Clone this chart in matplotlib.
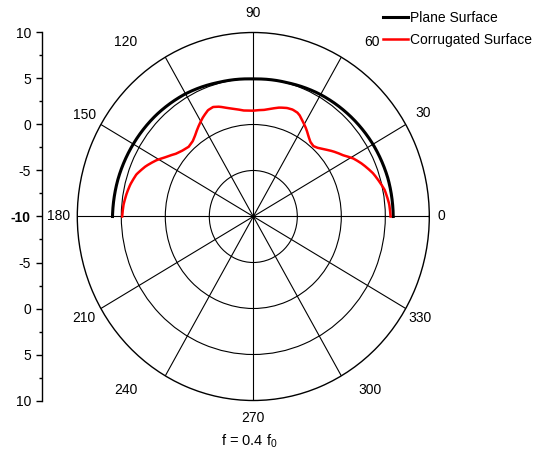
import numpy as np
import matplotlib
matplotlib.use('Agg')
import matplotlib.pyplot as plt
from matplotlib.ticker import FixedLocator, MultipleLocator

plt.rcParams['font.family'] = ['Liberation Sans', 'DejaVu Sans']
plt.rcParams['mathtext.fontset'] = 'custom'
plt.rcParams['mathtext.rm'] = 'Liberation Sans'
plt.rcParams['mathtext.it'] = 'Liberation Sans'

# angles in degrees, gain in dB
plane_theta = [0, 15, 30, 45, 60, 75, 90, 105, 120, 135, 150, 165, 180]
plane_db = [5.9, 5.85, 5.7, 5.5, 5.3, 5.05, 4.95, 5.1, 5.4, 5.6, 5.75, 5.9, 6.0]

corr_theta = [0, 5, 11, 19, 25, 29, 33, 38, 42, 45, 48, 51, 54, 58, 61, 64, 66, 69,
              72, 76, 80, 84, 90, 95, 100, 104, 108, 111, 114, 118, 121, 124, 127,
              130, 134, 138, 142, 147, 151, 156, 161, 166, 170, 175, 180]
corr_db = [5.6, 5.5, 5.2, 4.4, 3.6, 3.0, 2.2, 1.5, 0.9, 0.5, 0.25, 0.35, 0.7, 1.3, 1.7, 2.15,
           2.35, 2.45, 2.4, 2.2, 1.9, 1.65, 1.5, 1.55, 1.85, 2.15, 2.55, 2.75, 2.65, 2.2,
           1.8, 1.4, 1.0, 0.7, 0.55, 0.75, 1.1, 1.85, 2.6, 3.4, 4.05, 4.4, 4.6, 4.8, 4.9]

ring_db = [-5, 0, 5]
angle_ticks = list(range(0, 360, 30))
side_ticks = [-20, -15, -10, -5, 0, 5, 10, 15, 20]
side_labels = [str(abs(t) - 10) for t in side_ticks]

fig = plt.figure(figsize=(5.47, 4.65), dpi=100)
W, H = 547, 465
cx, cy, rx, ry = 253.3, 216.5, 176, 184
box = [(cx - rx) / W, (H - cy - ry) / H, 2 * rx / W, 2 * ry / H]

ax = fig.add_axes(box, projection='polar')
ax.set_aspect('auto')
ax.set_rlim(-10, 10)
ax.set_rgrids(ring_db, labels=[''] * len(ring_db))
ax.set_thetagrids(angle_ticks, labels=[''] * len(angle_ticks))
ax.xaxis.set_minor_locator(FixedLocator(np.deg2rad(np.arange(15, 360, 30))))
ax.tick_params(axis='x', which='major', length=2, direction='out')
ax.tick_params(axis='x', which='minor', length=4, direction='in', width=0.8)
ax.grid(True, color='black', linewidth=0.8)
ax.spines['polar'].set_linewidth(1.0)
ax.spines['polar'].set_color('black')

l1, = ax.plot(np.deg2rad(plane_theta), plane_db, color='black', lw=2.2, label='Plane Surface')
l2, = ax.plot(np.deg2rad(corr_theta), corr_db, color='#ff0000', lw=1.8, label='Corrugated Surface')
# draw segments as arcs in polar space
for ln in (l1, l2):
    ln.get_path()._interpolation_steps = 40

# angle labels, placed where the original software put them (pixel centres)
label_pos = [(441, 216), (423, 113), (372, 42), (253, 13), (126, 42), (85, 115),
             (59, 216), (84, 318), (126, 390), (253, 418), (370, 390), (420, 318)]
for a, (px, py) in zip(angle_ticks, label_pos):
    fig.text(px / W, 1 - py / H, str(a), ha='center', va='center', fontsize=10)

ax.legend(loc='upper left', bbox_to_anchor=(383 / W, 1 - 11 / H), bbox_transform=fig.transFigure,
          frameon=False, fontsize=10, handlelength=1.8, handletextpad=0.15,
          labelspacing=0.55, borderpad=0, borderaxespad=0)

# linear scale on the left
ax2 = fig.add_axes([42 / W, box[1], 0.001, box[3]])
ax2.set_ylim(-20, 20)
ax2.set_yticks(side_ticks, side_labels, fontsize=10)
ax2.yaxis.set_minor_locator(MultipleLocator(2.5))
ax2.tick_params(axis='y', which='major', length=4, width=1, pad=4)
ax2.tick_params(axis='y', which='minor', length=2, width=1)
ax2.set_xticks([])
for s in ['top', 'right', 'bottom']:
    ax2.spines[s].set_visible(False)
ax2.spines['left'].set_linewidth(1.0)
ax2.patch.set_visible(False)
for lab in ax2.get_yticklabels():
    if lab.get_text() == '-10':
        lab.set_fontweight('bold')

fig.text(249 / W, 1 - 441 / H, 'f = 0.4 f$_0$', ha='center', va='center', fontsize=10.5)

fig.savefig('out.png', dpi=100)
